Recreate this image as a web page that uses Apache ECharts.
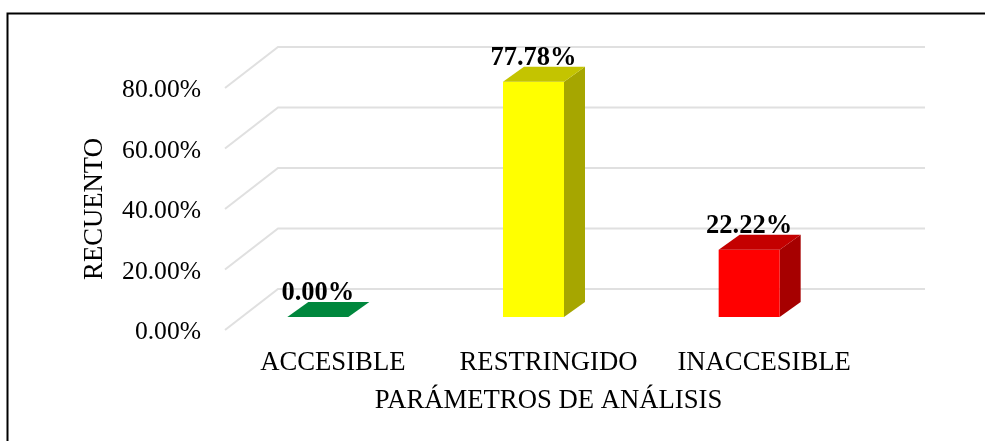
<!DOCTYPE html>
<html>
<head>
<meta charset="utf-8">
<style>html,body{margin:0;padding:0;background:#fff}#c{width:985px;height:441px}</style>
<script src="https://cdn.jsdelivr.net/npm/echarts@6/dist/echarts.min.js"></script>
</head>
<body>
<div id="c"></div>
<script>
const categories = ['ACCESIBLE', 'RESTRINGIDO', 'INACCESIBLE'];
const values = [0.00, 77.78, 22.22];
const ticks = [0, 20, 40, 60, 80];
const frontColors = ['#00b050', '#ffff00', '#ff0000'];
const topColors = ['#00873d', '#c4c400', '#c40000'];
const sideColors = ['#007a37', '#a6a600', '#a60000'];

const font = '"Liberation Serif","Times New Roman",serif';
const wallDx = 53, wallDy = 41;
const barDx = 21, barDy = 15;
const barW = 61, barShiftX = -15, barShiftY = -13;

const chart = echarts.init(document.getElementById('c'), null, {renderer: 'canvas'});
chart.setOption({
  animation: false,
  backgroundColor: '#fff',
  graphic: [{
    type: 'polyline', silent: true, z: 0,
    shape: {points: [[7.5, 441], [7.5, 13.5], [985, 13.5]]},
    style: {fill: 'none', stroke: '#000', lineWidth: 2}
  }],
  grid: {left: 225, top: 88, width: 647, height: 242},
  xAxis: {
    type: 'category', data: categories,
    axisLine: {show: false}, axisTick: {show: false}, splitLine: {show: false},
    axisLabel: {color: '#000', fontFamily: font, fontSize: 26.7, margin: 19, interval: 0, hideOverlap: false},
    name: 'PARÁMETROS DE ANÁLISIS', nameLocation: 'middle', nameGap: 57,
    nameTextStyle: {color: '#000', fontFamily: font, fontSize: 26.7}
  },
  yAxis: {
    type: 'value', min: 0, max: 80, interval: 20,
    axisLine: {show: false}, axisTick: {show: false}, splitLine: {show: false},
    axisLabel: {
      margin: 24,
      formatter: v => '{t|' + v.toFixed(2) + '%}',
      rich: {t: {color: '#000', fontFamily: font, fontSize: 25.6, padding: [5, 0, 0, 0]}}
    },
    name: 'RECUENTO', nameLocation: 'middle', nameGap: 117, nameRotate: 90,
    nameTextStyle: {color: '#000', fontFamily: font, fontSize: 26.7}
  },
  series: [
    {
      type: 'custom', z: 1, silent: true,
      data: ticks.map(t => [t]),
      encode: {y: 0},
      renderItem(params, api) {
        const cs = params.coordSys;
        const y = api.coord([0, api.value(0)])[1];
        return {
          type: 'polyline',
          shape: {points: [[cs.x, y], [cs.x + wallDx, y - wallDy], [cs.x + cs.width + wallDx, y - wallDy]]},
          style: {fill: 'none', stroke: '#e0e0e0', lineWidth: 2}
        };
      }
    },
    {
      type: 'custom', z: 2, silent: true,
      data: values.map((v, i) => [i, v]),
      encode: {x: 0, y: 1},
      renderItem(params, api) {
        const i = api.value(0), p = api.coord([i, api.value(1)]), b = api.coord([i, 0]);
        const x0 = p[0] + barShiftX - barW / 2, x1 = x0 + barW;
        const yt = p[1] + barShiftY, yb = b[1] + barShiftY;
        const children = [];
        if (yb - yt > 0.5) {
          children.push({type: 'polygon', shape: {points: [[x1, yt], [x1 + barDx, yt - barDy], [x1 + barDx, yb - barDy], [x1, yb]]}, style: {fill: sideColors[i]}});
          children.push({type: 'rect', shape: {x: x0, y: yt, width: barW, height: yb - yt}, style: {fill: frontColors[i]}});
        }
        children.push({type: 'polygon', shape: {points: [[x0, yt], [x0 + barDx, yt - barDy], [x1 + barDx, yt - barDy], [x1, yt]]}, style: {fill: topColors[i]}});
        children.push({
          type: 'text', z2: 10,
          style: {
            x: (x0 + x1) / 2, y: yt - 24,
            text: api.value(1).toFixed(2) + '%',
            fill: '#000', font: 'bold 26.5px ' + font,
            align: 'center', verticalAlign: 'middle'
          }
        });
        return {type: 'group', children};
      }
    }
  ]
});
</script>
</body>
</html>
